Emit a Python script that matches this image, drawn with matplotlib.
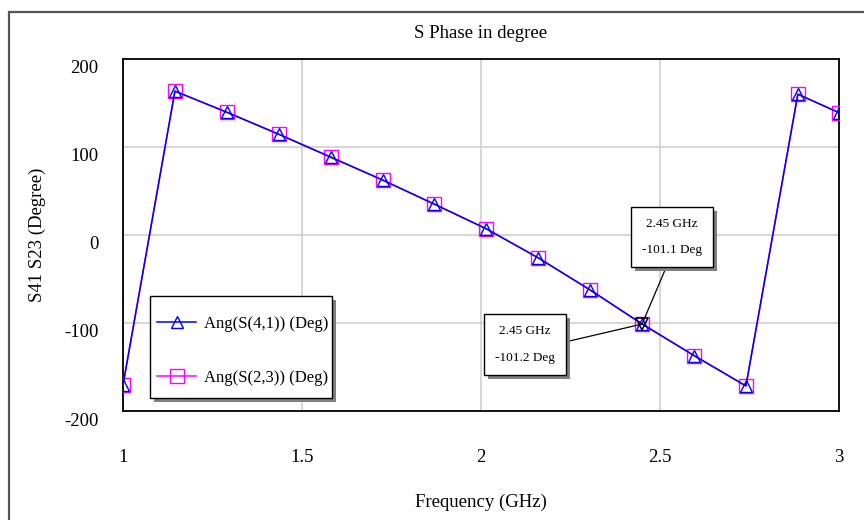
import matplotlib
matplotlib.use("Agg")
import matplotlib.pyplot as plt
import matplotlib.patches as mpatches
import matplotlib.patheffects as pe
from matplotlib.transforms import ScaledTranslation

# Swept frequency points (GHz)
freq = [1.0, 1.145, 1.29, 1.435, 1.58, 1.725, 1.87, 2.015, 2.16, 2.305,
        2.45, 2.595, 2.74, 2.885, 3.0]

# Transmission phase, degrees
ang_s41 = [-170.5, 163.5, 139.5, 114.5, 88.5, 62.5, 35.0, 7.0, -26.0, -62.5,
           -101.1, -137.0, -171.5, 160.0, 139.0]
ang_s23 = [-170.5, 163.5, 139.5, 114.5, 88.5, 62.5, 35.0, 7.0, -26.0, -62.5,
           -101.2, -137.0, -171.5, 160.0, 139.0]

series_labels = ["Ang(S(4,1)) (Deg)", "Ang(S(2,3)) (Deg)"]
x_ticks = [1, 1.5, 2, 2.5, 3]
x_tick_labels = ["1", "1.5", "2", "2.5", "3"]
y_ticks = [-200, -100, 0, 100, 200]
y_tick_labels = ["-200", "-100", "0", "100", "200"]

marker_freq = 2.45
marker_s41 = -101.1
marker_s23 = -101.2

plt.rcParams["font.family"] = ["Liberation Serif", "DejaVu Serif"]

W, H = 864, 520
fig = plt.figure(figsize=(W / 100, H / 100), dpi=100)
fig.patch.set_facecolor("white")

shadow_fx = [pe.SimplePatchShadow(offset=(3, -3), shadow_rgbFace="#808080",
                                  alpha=1), pe.Normal()]

# outer frame of the graph window
frame = mpatches.Rectangle((9 / W, -0.2), 1.5, (1 - 12 / H) + 0.2,
                           transform=fig.transFigure, fill=False,
                           edgecolor="#555555", lw=1.6, zorder=0)
fig.patches.append(frame)

ax = fig.add_axes([123 / W, 1 - 411 / H, (839 - 123) / W, (411 - 59) / H])

blue = "#0000ff"
magenta = "#ff00ff"

ax.plot(freq, ang_s23, color=magenta, lw=1.1, marker="s", ms=10,
        mfc="none", mec=magenta, mew=1.0, label=series_labels[1], zorder=3)
ax.plot(freq, ang_s41, color=blue, lw=1.1, marker="^", ms=9,
        mfc="none", mec=blue, mew=1.0, label=series_labels[0], zorder=4)

ax.set_xlim(1, 3)
ax.set_ylim(-200, 200)
ax.set_xticks(x_ticks)
ax.set_xticklabels(x_tick_labels)
ax.set_yticks(y_ticks)
ax.set_yticklabels(y_tick_labels)
ax.tick_params(axis="both", length=0, labelsize=13.5, colors="black")
ax.tick_params(axis="x", pad=27.5)
ax.tick_params(axis="y", pad=17.5)
shift = ScaledTranslation(0, -8 / 100, fig.dpi_scale_trans)
for lbl in ax.get_yticklabels():
    lbl.set_transform(lbl.get_transform() + shift)

ax.grid(True, color="#cfcfcf", lw=1.2)
ax.set_axisbelow(True)
for sp in ax.spines.values():
    sp.set_color("black")
    sp.set_linewidth(1.3)

fig.text(481 / W, 1 - 33 / H, "S Phase in degree", ha="center", va="center",
         fontsize=13.5)
fig.text(481 / W, 1 - 502 / H, "Frequency (GHz)", ha="center", va="center",
         fontsize=13.5)
fig.text(37 / W, 1 - 235 / H, "S41 S23 (Degree)", ha="center", va="center",
         rotation=90, fontsize=13.5)

# legend: box with drop shadow, entries placed inside it
legend_box = mpatches.Rectangle((150 / W, 1 - 398 / H), (332 - 150) / W,
                                (398 - 296) / H, transform=fig.transFigure,
                                fc="white", ec="black", lw=1.0, zorder=8,
                                clip_on=False)
legend_box.set_path_effects(shadow_fx)
ax.add_patch(legend_box)

handles, labels = ax.get_legend_handles_labels()
leg = ax.legend(handles[::-1], labels[::-1], loc="upper left",
                bbox_to_anchor=(157 / W, 1 - 316 / H),
                bbox_transform=fig.transFigure, borderaxespad=0,
                fontsize=12, frameon=False, borderpad=0,
                labelspacing=2.25, handlelength=2.35, handletextpad=0.45)
leg.set_zorder(9)

# marker at 2.45 GHz
ax.plot([marker_freq], [marker_s41], marker="v", ms=8, mfc="none",
        mec="black", mew=1.1, zorder=6, ls="none")

box_kw = dict(boxstyle="square,pad=0.82", fc="white", ec="black", lw=1.0)
t1 = ax.annotate(f"{marker_freq} GHz\n\n{marker_s41} Deg",
                 xy=(marker_freq, marker_s41),
                 xytext=(2.5335, -2.3), textcoords="data",
                 ha="center", va="center", fontsize=9.5, linespacing=1.15,
                 bbox=box_kw, zorder=7,
                 arrowprops=dict(arrowstyle="-", color="black", lw=0.9,
                                 shrinkA=0, shrinkB=0, relpos=(0.48, 0)))
t2 = ax.annotate(f"{marker_freq} GHz\n\n{marker_s23} Deg",
                 xy=(marker_freq, marker_s23),
                 xytext=(2.1229, -124.3), textcoords="data",
                 ha="center", va="center", fontsize=9.5, linespacing=1.15,
                 bbox=box_kw, zorder=7,
                 arrowprops=dict(arrowstyle="-", color="black", lw=0.9,
                                 shrinkA=0, shrinkB=0, relpos=(1, 0.5)))
for t in (t1, t2):
    t.get_bbox_patch().set_path_effects(shadow_fx)

fig.savefig("out.png", dpi=100, facecolor="white")
